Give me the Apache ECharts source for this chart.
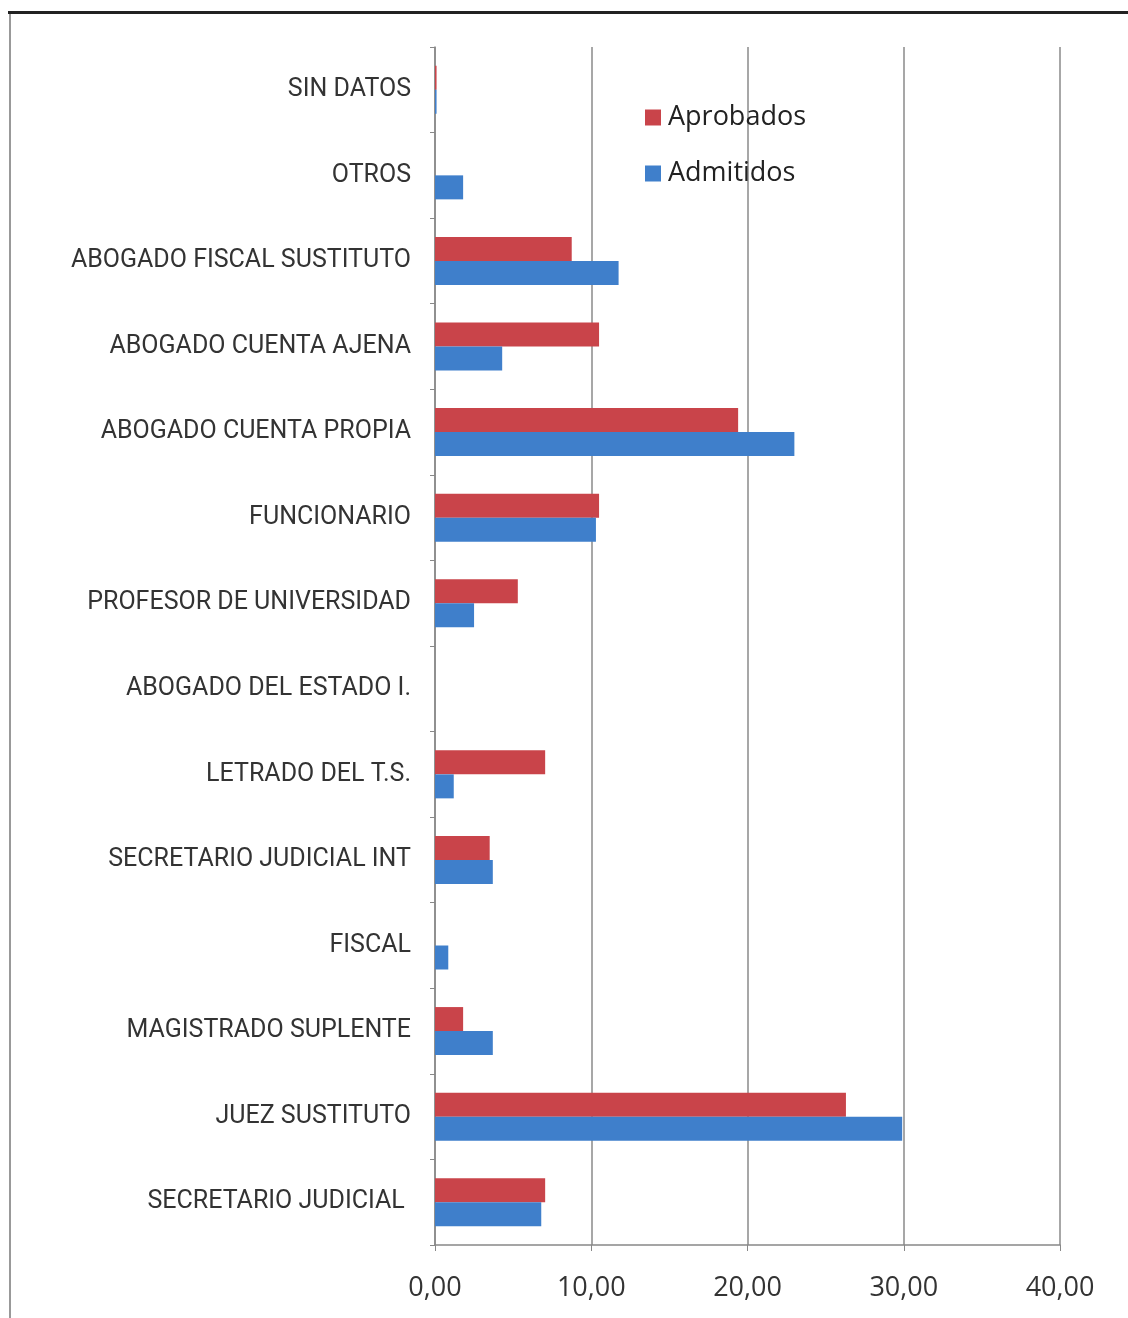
<!DOCTYPE html>
<html>
<head>
<meta charset="utf-8">
<script src="https://cdn.jsdelivr.net/npm/echarts@6/dist/echarts.min.js"></script>
<style>
  html, body { margin: 0; padding: 0; background: #fff; }
  #chart { width: 1128px; height: 1318px; }
</style>
</head>
<body>
<div id="chart"></div>
<script>
// categorias, de abajo hacia arriba
var categorias = [
  "SECRETARIO JUDICIAL ",
  "JUEZ SUSTITUTO",
  "MAGISTRADO SUPLENTE",
  "FISCAL",
  "SECRETARIO JUDICIAL INT",
  "LETRADO DEL T.S.",
  "ABOGADO DEL ESTADO I.",
  "PROFESOR DE UNIVERSIDAD",
  "FUNCIONARIO",
  "ABOGADO CUENTA PROPIA",
  "ABOGADO CUENTA AJENA",
  "ABOGADO FISCAL SUSTITUTO",
  "OTROS",
  "SIN DATOS"
];
var aprobados = [7.05, 26.3, 1.8, 0, 3.5, 7.05, 0, 5.3, 10.5, 19.4, 10.5, 8.75, 0, 0.1];
var admitidos = [6.8, 29.9, 3.7, 0.85, 3.7, 1.2, 0, 2.5, 10.3, 23.0, 4.3, 11.75, 1.8, 0.1];
var ticksX = [0, 10, 20, 30, 40];

var myChart = echarts.init(document.getElementById("chart"));
var option;

option = {
  backgroundColor: "#fff",
  animation: false,
  graphic: [
    { type: "rect", left: 8, top: 11, shape: { width: 1120, height: 3 }, style: { fill: "#222" } },
    { type: "rect", left: 9, top: 14, shape: { width: 2, height: 1304 }, style: { fill: "#999" } }
  ],
  legend: {
    data: ["Aprobados", "Admitidos"],
    orient: "vertical",
    left: 640,
    top: 99,
    itemWidth: 16,
    itemHeight: 16,
    itemGap: 29,
    icon: "rect",
    textStyle: { fontFamily: "Open Sans", fontSize: 27, color: "#222", padding: [0, 0, 0, 2] }
  },
  grid: { left: 435, right: 68, top: 47, bottom: 73 },
  xAxis: {
    type: "value",
    min: ticksX[0],
    max: ticksX[ticksX.length - 1],
    interval: 10,
    axisLine: { show: true, lineStyle: { color: "#888", width: 1.5 } },
    axisTick: { show: true, length: 6, lineStyle: { color: "#888" } },
    splitLine: { show: true, lineStyle: { color: "#8a8a8a", width: 1.5 } },
    axisLabel: {
      margin: 30,
      fontFamily: "Open Sans",
      fontSize: 27,
      color: "#333",
      formatter: function (v) { return v.toFixed(2).replace(".", ","); }
    }
  },
  yAxis: {
    type: "category",
    data: categorias,
    axisLine: { show: true, lineStyle: { color: "#888", width: 1.5 } },
    axisTick: { show: true, length: 5, lineStyle: { color: "#888" } },
    axisLabel: {
      margin: 24,
      fontFamily: "Roboto",
      fontSize: 25,
      color: "#333"
    }
  },
  series: [
    {
      name: "Aprobados",
      type: "bar",
      data: aprobados,
      barWidth: 24,
      barGap: "0%",
      itemStyle: { color: "#c9444a" }
    },
    {
      name: "Admitidos",
      type: "bar",
      data: admitidos,
      barWidth: 24,
      barGap: "0%",
      itemStyle: { color: "#3f7fcb" }
    }
  ]
};

option && myChart.setOption(option);
</script>
</body>
</html>
